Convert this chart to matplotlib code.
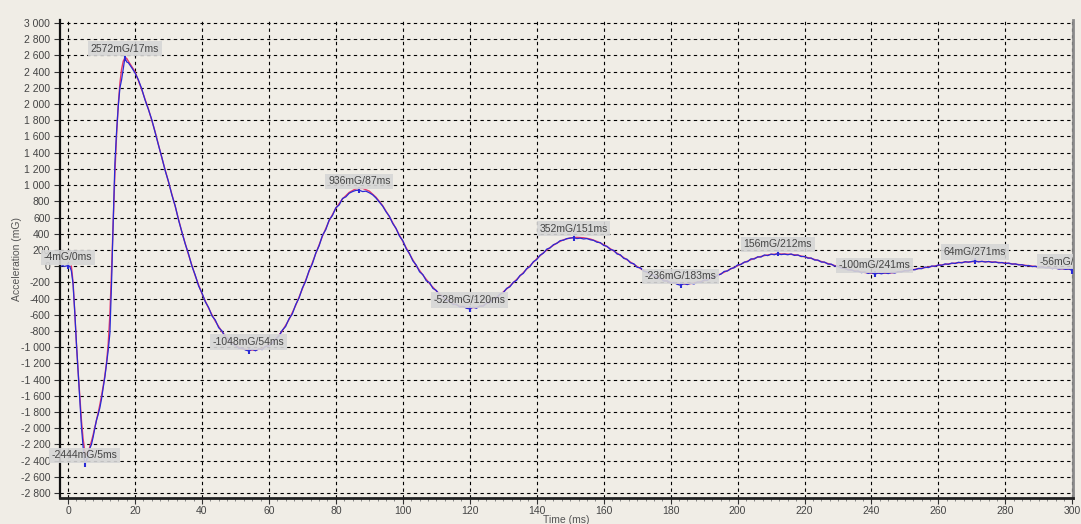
import numpy as np
import matplotlib
matplotlib.use("Agg")
import matplotlib.pyplot as plt
from matplotlib.ticker import MultipleLocator, FuncFormatter
import matplotlib.transforms as mtransforms

plt.rcParams['font.family'] = ['Liberation Sans', 'DejaVu Sans']
plt.rcParams['axes.unicode_minus'] = False

# ---- measured signal (blue), fine step during the first shock, then 1 ms ----
blue_start1, blue_step1 = -2.0, 0.5
blue_vals1 = [0, 5, -5, 4, -4, 0, -60, -220, -560, -950, -1300, -1650, -1980, -2230,
              -2444, -2400, -2330, -2250, -2200, -2110, -2000, -1900, -1830, -1750,
              -1640, -1500, -1370, -1200, -1040, -830, -210, 560, 1270, 1660, 1970,
              2200, 2300, 2440, 2572, 2520]
blue_start2, blue_step2 = 18.0, 1.0
blue_vals2 = [
    2510, 2450, 2385, 2300, 2190, 2050, 1935, 1810, 1650, 1495,
    1345, 1180, 1045, 880, 745, 570, 425, 275, 150, 0,
    -110, -245, -330, -440, -510, -615, -665, -760, -800, -880,
    -900, -960, -975, -1015, -1010, -1035, -1048, -1025, -1045, -1020,
    -1030, -990, -985, -950, -900, -865, -790, -745, -650, -590,
    -475, -395, -270, -185, -55, 30, 160, 250, 380, 450,
    570, 625, 720, 755, 835, 855, 900, 920, 935, 936,
    920, 925, 905, 880, 840, 790, 740, 670, 615, 525,
    465, 370, 315, 215, 155, 65, 15, -70, -105, -180,
    -205, -275, -300, -360, -370, -425, -430, -475, -470, -505,
    -495, -520, -528, -505, -520, -490, -495, -455, -450, -405,
    -395, -345, -330, -275, -255, -200, -175, -115, -90, -30,
    -5, 55, 80, 135, 160, 210, 225, 265, 280, 315,
    320, 340, 345, 352, 340, 345, 335, 340, 325, 318,
    295, 290, 255, 245, 205, 195, 150, 140, 95, 85,
    40, 30, -15, -20, -65, -70, -110, -115, -150, -150,
    -185, -180, -210, -200, -225, -236, -215, -228, -210, -220,
    -195, -200, -170, -175, -140, -145, -110, -100, -65, -60,
    -30, -20, 15, 20, 50, 55, 90, 88, 115, 112,
    138, 130, 148, 140, 156, 142, 148, 140, 150, 132,
    138, 118, 120, 98, 100, 75, 75, 50, 50, 25,
    25, 0, 0, -25, -25, -48, -45, -65, -60, -80,
    -72, -90, -80, -100, -85, -95, -82, -92, -78, -85,
    -68, -72, -55, -60, -42, -45, -28, -32, -12, -18,
    2, -3, 15, 10, 28, 22, 38, 32, 48, 40,
    55, 48, 58, 64, 52, 60, 50, 58, 46, 52,
    40, 45, 32, 38, 24, 28, 15, 18, 4, 8,
    -6, -2, -15, -10, -22, -18, -30, -24, -36, -30,
    -40, -35, -56]

# ---- fitted curve (red) ----
red_start1, red_step1 = 1.0, 0.5
red_vals1 = [0, -200, -560, -950, -1290, -1600, -1900, -2130, -2280, -2330,
             -2300, -2230, -2160, -2080, -1990, -1900, -1810, -1710, -1600, -1480,
             -1350, -1190, -960, -600, -50, 550, 1150, 1620, 1990, 2260,
             2430, 2530, 2570, 2565]
red_start2, red_step2 = 18.0, 2.0
red_vals2 = [
    2530, 2400, 2180, 1940, 1660, 1340, 1040, 740, 420, 140,
    -120, -340, -520, -680, -810, -910, -980, -1020, -1035, -1035,
    -1015, -975, -905, -800, -660, -485, -280, -65, 155, 370,
    560, 715, 830, 910, 955, 960, 925, 850, 745, 610,
    460, 305, 150, 5, -110, -215, -305, -380, -440, -480,
    -505, -515, -508, -485, -440, -385, -320, -245, -165, -80,
    5, 90, 165, 230, 285, 325, 348, 355, 350, 335,
    305, 265, 215, 160, 105, 50, -5, -55, -100, -140,
    -175, -200, -215, -220, -215, -200, -180, -150, -115, -75,
    -35, 5, 45, 80, 110, 130, 145, 150, 150, 145,
    135, 115, 95, 70, 45, 20, -5, -30, -50, -65,
    -78, -85, -88, -87, -82, -72, -60, -46, -32, -18,
    -4, 10, 22, 33, 42, 50, 55, 57, 56, 52,
    46, 38, 29, 20, 10, 0, -9, -17, -24, -30,
    -35, -38]

# ---- labelled extrema ----
peak_t = [0, 5, 17, 54, 87, 120, 151, 183, 212, 241, 271, 300]
peak_v = [-4, -2444, 2572, -1048, 936, -528, 352, -236, 156, -100, 64, -56]

blue_t = np.concatenate([blue_start1 + blue_step1 * np.arange(len(blue_vals1)),
                         blue_start2 + blue_step2 * np.arange(len(blue_vals2))])
blue_v = np.array(blue_vals1 + blue_vals2, dtype=float)
red_t = np.concatenate([red_start1 + red_step1 * np.arange(len(red_vals1)),
                        red_start2 + red_step2 * np.arange(len(red_vals2))])
red_v = np.array(red_vals1 + red_vals2, dtype=float)

BG = '#F0EDE6'
fig = plt.figure(figsize=(10.81, 5.24), dpi=100, facecolor=BG)
W, H = 1081, 524
ax = fig.add_axes([60 / W, 1 - 498 / H, (1073 - 60) / W, (498 - 20) / H])
ax.set_facecolor(BG)

ax.plot(red_t, red_v, color='#e8386a', lw=1.0, zorder=3)
ax.plot(blue_t, blue_v, color='#2a2ad6', lw=0.9, zorder=4)
ax.plot(peak_t, peak_v, linestyle='none', marker='|', markersize=5,
        mew=1.5, color='#2a2ad6', zorder=5)

ax.set_xlim(-2.4, 300.2)
ax.set_ylim(-2861, 3037)
ax.xaxis.set_major_locator(MultipleLocator(20))
ax.xaxis.set_minor_locator(MultipleLocator(2.5))
ax.yaxis.set_major_locator(MultipleLocator(200))
fmt = FuncFormatter(lambda v, _: f"{int(round(v)):,}".replace(",", " "))
ax.yaxis.set_major_formatter(fmt)
ax.grid(True, which='major', color='black', linestyle=(0, (3, 3)), linewidth=0.8)
ax.set_axisbelow(True)

ax.tick_params(axis='both', which='major', direction='out', length=4, width=0.8,
               labelsize=7.5, labelcolor='#444444', color='#333333', pad=3)
ax.tick_params(axis='x', which='major', pad=2)
ax.tick_params(axis='x', which='minor', direction='out', length=2, width=0.6,
               color='#777777')

ax.spines['top'].set_visible(False)
ax.spines['left'].set_color('#111111')
ax.spines['left'].set_linewidth(1.6)
ax.spines['bottom'].set_color('#222222')
ax.spines['bottom'].set_linewidth(2.0)
ax.spines['right'].set_color('#8a8a8a')
ax.spines['right'].set_linewidth(2.0)

ax.set_ylabel('Acceleration (mG)', fontsize=7.5, color='#555555', labelpad=-1)
ax.set_xlabel('Time (ms)', fontsize=7.5, color='#555555', labelpad=-1)

# clip labels only at the right edge of the plot
clip_bbox = mtransforms.Bbox.from_extents(0, 0, 1073, H)
for t, v in zip(peak_t, peak_v):
    txt = ax.annotate(f"{v}mG/{t}ms", xy=(t, v), xytext=(0, 9),
                      textcoords='offset pixels', ha='center', va='center',
                      fontsize=7.5, color='#444444', zorder=6,
                      annotation_clip=False,
                      bbox=dict(boxstyle='square,pad=0.25', fc='#D6D6D6',
                                ec='none', alpha=0.9))
    txt.set_clip_box(mtransforms.TransformedBbox(clip_bbox, mtransforms.IdentityTransform()))
    txt.set_clip_on(True)

fig.savefig('out.png', dpi=100, facecolor=BG)
